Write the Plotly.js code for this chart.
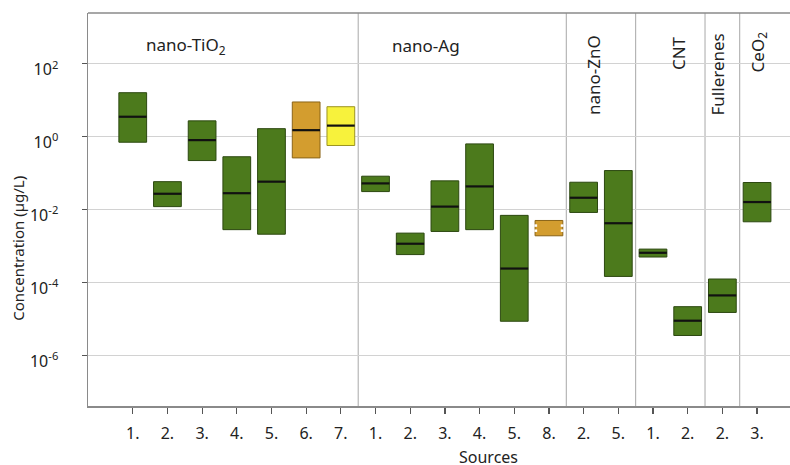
<!DOCTYPE html>
<html>
<head>
<meta charset="utf-8">
<script src="https://cdn.plot.ly/plotly-3.0.1.min.js"></script>
<style>
  html, body { margin: 0; padding: 0; background: #fff; }
  #chart { width: 790px; height: 465px; }
</style>
</head>
<body>
<div id="chart"></div>
<script>
// Source labels along the x axis, one per box
const sourceLabels = ['1.', '2.', '3.', '4.', '5.', '6.', '7.',
                      '1.', '2.', '3.', '4.', '5.', '8.',
                      '2.', '5.',
                      '1.', '2.',
                      '2.',
                      '3.'];

// Material group of each box
const materials = ['TiO2', 'TiO2', 'TiO2', 'TiO2', 'TiO2', 'TiO2', 'TiO2',
                   'Ag', 'Ag', 'Ag', 'Ag', 'Ag', 'Ag',
                   'ZnO', 'ZnO',
                   'CNT', 'CNT',
                   'Fullerenes',
                   'CeO2'];

// Concentration ranges in µg/L: low end, median, high end
const lowValues = [0.70, 0.012, 0.22, 0.0028, 0.0021, 0.26, 0.57,
                   0.031, 0.00058, 0.0025, 0.0028, 8.6e-6, 0.0019,
                   0.0083, 1.46e-4,
                   4.97e-4, 3.5e-6,
                   1.5e-5,
                   0.0046];
const medianValues = [3.5, 0.027, 0.80, 0.028, 0.058, 1.5, 2.0,
                      0.052, 0.00115, 0.012, 0.043, 2.4e-4, null,
                      0.021, 0.0042,
                      6.5e-4, 8.9e-6,
                      4.4e-5,
                      0.016];
const highValues = [16, 0.058, 2.7, 0.28, 1.65, 8.9, 6.6,
                    0.082, 0.00225, 0.061, 0.63, 0.0069, 0.0050,
                    0.056, 0.117,
                    8.2e-4, 2.16e-5,
                    1.24e-4,
                    0.055];

// Kind of estimate behind each range (sets the box colour)
const estimateKind = ['m', 'm', 'm', 'm', 'm', 'o', 'y',
                      'm', 'm', 'm', 'm', 'm', 'o',
                      'm', 'm',
                      'm', 'm',
                      'm',
                      'm'];

// Group headings
const groupNames = ['nano-TiO<sub>2</sub>', 'nano-Ag', 'nano-ZnO', 'CNT', 'Fullerenes', 'CeO<sub>2</sub>'];

// Y tick values
const yTickValues = [1e2, 1e0, 1e-2, 1e-4, 1e-6];
const yTickText = ['10<sup>2</sup>', '10<sup>0</sup>', '10<sup>-2</sup>', '10<sup>-4</sup>', '10<sup>-6</sup>'];

const FONT = 'Noto Sans, Open Sans, sans-serif';
const fillColors = { m: '#4c7a1c', o: '#d39d2f', y: '#f7f23c' };
const edgeColors = { m: '#2c4810', o: '#8a6418', y: '#9c9420' };

const xPos = sourceLabels.map((_, i) => i + 1);
const BOX_W = 0.8;

// Boxes: bars spanning low..high
const boxTrace = {
  type: 'bar',
  x: xPos,
  base: lowValues,
  y: highValues.map((h, i) => h - lowValues[i]),
  width: BOX_W,
  marker: {
    color: estimateKind.map(k => fillColors[k]),
    line: { color: estimateKind.map(k => edgeColors[k]), width: 1 }
  },
  hoverinfo: 'skip',
  showlegend: false
};

// Median lines across each box
const medX = [], medY = [];
medianValues.forEach((m, i) => {
  if (m === null) return;
  medX.push(xPos[i] - BOX_W / 2, xPos[i] + BOX_W / 2, null);
  medY.push(m, m, null);
});
const medianTrace = {
  type: 'scatter',
  mode: 'lines',
  x: medX,
  y: medY,
  line: { color: '#111', width: 2.2 },
  hoverinfo: 'skip',
  showlegend: false,
  cliponaxis: false
};

// Vertical separators between material groups
const shapes = [];
for (let i = 1; i < materials.length; i++) {
  if (materials[i] !== materials[i - 1]) {
    shapes.push({
      type: 'line', xref: 'x', yref: 'paper',
      x0: i + 0.5, x1: i + 0.5, y0: 0, y1: 1,
      line: { color: '#a8a8a8', width: 1 }, layer: 'below'
    });
  }
}
// Top frame line
shapes.push({
  type: 'line', xref: 'paper', yref: 'paper',
  x0: 0, x1: 1, y0: 1, y1: 1,
  line: { color: '#8a8a8a', width: 1.5 }
});

// Notches on the sides of the small orange box (source 8.)
estimateKind.forEach((k, i) => {
  if (k !== 'o' || medianValues[i] !== null) return;
  const lg = Math.log10(lowValues[i]), hg = Math.log10(highValues[i]);
  [1 / 3, 2 / 3].forEach(f => {
    const v = Math.pow(10, lg + f * (hg - lg));
    [-1, 1].forEach(s => {
      shapes.push({
        type: 'line', xref: 'x', yref: 'y',
        x0: xPos[i] + s * BOX_W / 2 - s * 0.06, x1: xPos[i] + s * BOX_W / 2 + s * 0.02,
        y0: v, y1: v,
        line: { color: '#ffffff', width: 2.5 }
      });
    });
  });
});

// Group heading positions
const headingPos = [
  { x: 2.54, y: 0.918, angle: 0 },
  { x: 9.46, y: 0.918, angle: 0 },
  { x: 14.27, y: 0.842, angle: -90 },
  { x: 16.72, y: 0.898, angle: -90 },
  { x: 17.85, y: 0.844, angle: -90 },
  { x: 19.03, y: 0.900, angle: -90 }
];
const annotations = groupNames.map((g, i) => ({
  text: g, xref: 'x', yref: 'paper',
  x: headingPos[i].x, y: headingPos[i].y,
  textangle: headingPos[i].angle,
  showarrow: false, xanchor: 'center', yanchor: 'middle',
  font: { family: FONT, size: 17, color: '#222' }
}));
annotations.push({
  text: 'Concentration (µg/L)', xref: 'paper', yref: 'paper',
  x: -0.0997, y: 0.40, textangle: -90, showarrow: false,
  xanchor: 'center', yanchor: 'middle',
  font: { family: FONT, size: 15, color: '#222' }
});
annotations.push({
  text: 'Sources', xref: 'paper', yref: 'paper',
  x: 0.571, y: -0.097, showarrow: false,
  xanchor: 'center', yanchor: 'top',
  font: { family: FONT, size: 16, color: '#222' }
});

const layout = {
  width: 790, height: 465,
  margin: { l: 88, r: 0, t: 13, b: 59 },
  paper_bgcolor: '#fff', plot_bgcolor: '#fff',
  font: { family: FONT, size: 15, color: '#222' },
  showlegend: false,
  xaxis: {
    range: [-0.29, 19.95],
    tickmode: 'array', tickvals: xPos, ticktext: sourceLabels,
    ticks: 'outside', ticklen: 6, tickcolor: '#555', tickwidth: 1.2,
    showgrid: false, zeroline: false,
    showline: true, linecolor: '#8a8a8a', linewidth: 1.5,
    tickfont: { family: FONT, size: 16, color: '#222' },
    ticklabelstandoff: 6
  },
  yaxis: {
    type: 'log',
    range: [-7.39, 3.39],
    tickmode: 'array', tickvals: yTickValues, ticktext: yTickText,
    ticks: 'outside', ticklen: 5, tickcolor: '#555', tickwidth: 1.2,
    showgrid: true, gridcolor: '#d2d2d2', gridwidth: 1,
    zeroline: false,
    showline: true, linecolor: '#8a8a8a', linewidth: 1.5,
    tickfont: { family: FONT, size: 16, color: '#222' },
    ticklabelstandoff: 20,
    ticklabelshift: 6
  },
  shapes: shapes,
  annotations: annotations
};

Plotly.newPlot('chart', [boxTrace, medianTrace], layout, { staticPlot: true, displayModeBar: false });
</script>
</body>
</html>
